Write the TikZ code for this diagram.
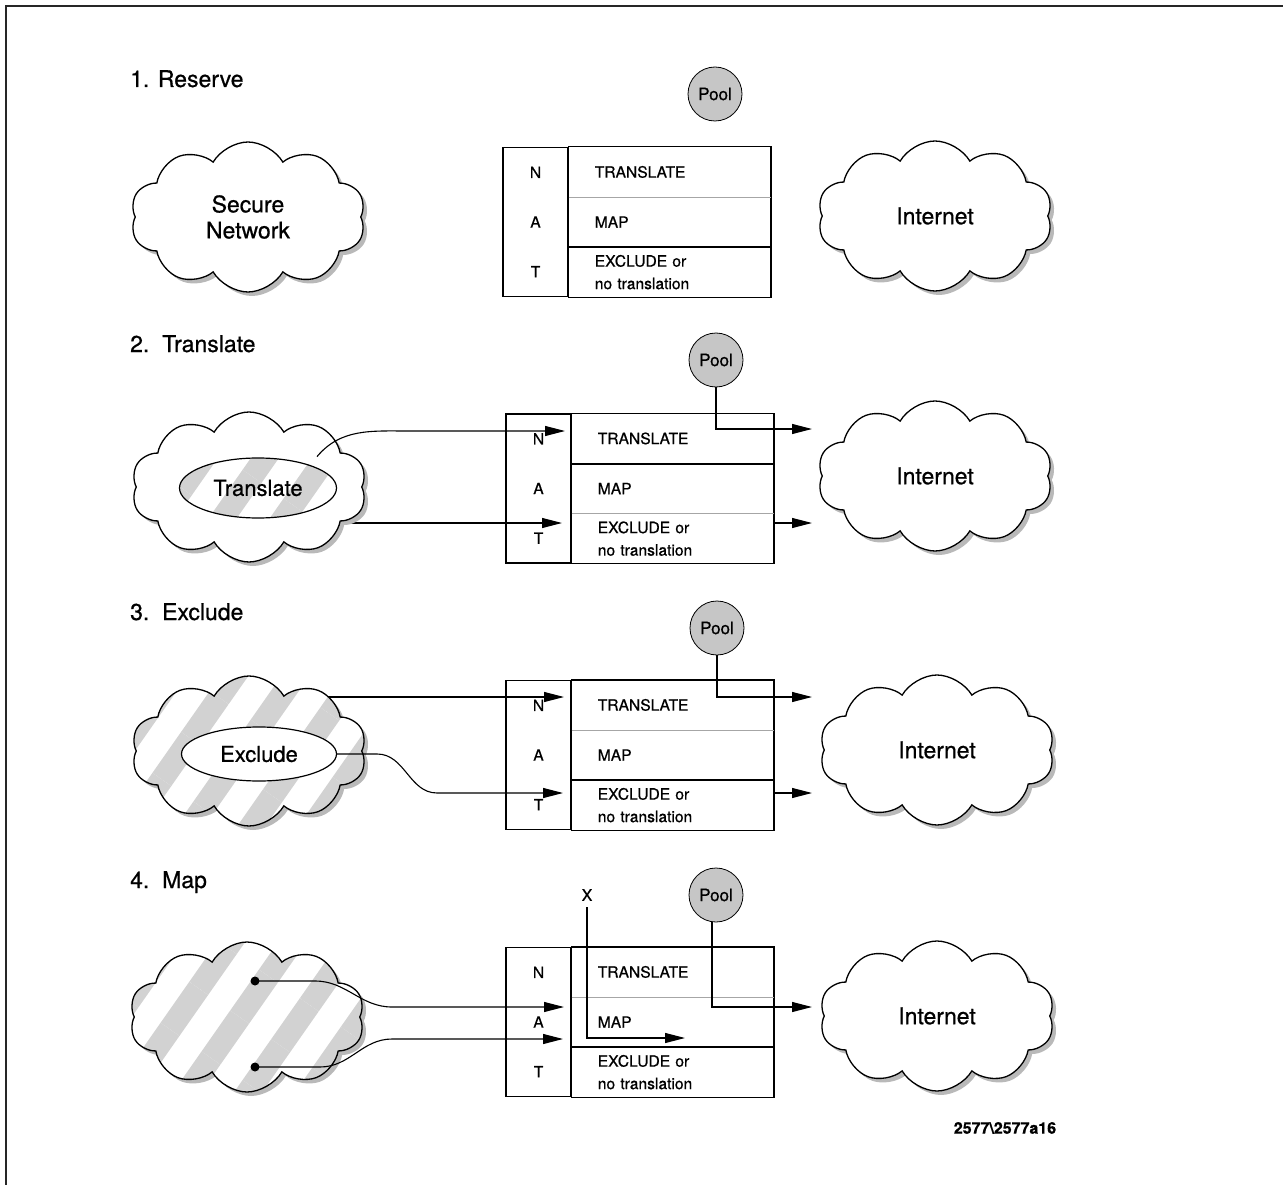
\documentclass[tikz,border=0pt]{standalone}
\usepackage{fontspec}
\setmainfont{TeX Gyre Heros}[FakeBold=0.7]
\usetikzlibrary{positioning,arrows.meta,calc,shapes.geometric,shapes.symbols,shadows,patterns.meta,backgrounds}

\begin{document}
\begin{tikzpicture}[x=1pt, y=-1pt,
    netcloud/.style={cloud, cloud puffs=10, cloud puff arc=120, cloud ignores aspect,
                     draw=black, fill=white, line width=1.3pt,
                     minimum width=235pt, minimum height=150pt, align=center,
                     font=\fontsize{23}{26}\selectfont,
                     drop shadow={shadow xshift=4pt, shadow yshift=-4pt, fill=gray!55, opacity=1}},
    striped/.style={preaction={fill=white},
                    pattern={Lines[angle=55, distance=50pt, line width=23pt]}, pattern color=gray!35},
    inset/.style={ellipse, draw=black, fill=white, line width=1.2pt, inner sep=0pt,
                  font=\fontsize{22}{22}\selectfont},
    pool/.style={circle, draw=black, fill=gray!45, line width=0.8pt, minimum size=54pt,
                 inner sep=0pt, font=\fontsize{17}{17}\selectfont},
    natcol/.style={draw=black, line width=1.2pt, minimum width=65pt, minimum height=149pt,
                   inner sep=0pt, align=center, font=\fontsize{15.6}{49.7}\selectfont},
    natrow/.style={minimum width=202pt, minimum height=49.7pt, text width=150pt,
                   inner xsep=26pt, inner ysep=0pt, align=left,
                   font=\fontsize{15.6}{22.5}\selectfont},
    natframe/.style={draw=black, line width=1.2pt},
    thickdiv/.style={draw=black, line width=2pt},
    thindiv/.style={draw=gray!70, line width=0.9pt},
    flow/.style={-{Triangle[length=20pt, width=10pt]}, line width=1.1pt, draw=black},
    heading/.style={anchor=base west, inner sep=0pt, font=\fontsize{23}{23}\selectfont},
    mapdot/.style={circle, fill=black, inner sep=0pt, minimum size=9pt},
    tag/.style={font=\bfseries\fontsize{16}{16}\selectfont, inner sep=0pt}
]
\useasboundingbox (0,0) rectangle (1283,1185);

% --- page frame ---
\draw[line width=2.5pt, black!85] (6,1190) -- (6,6) -- (1290,6);

% --- 1. Reserve ---
\node[heading] (h1) at (130,87) {1. Reserve};
\node[netcloud] (secure) at (248,217) {Secure\\Network};
\node[netcloud] (inet1) at (935,216) {Internet};
\node[pool] (pool1) at (715,94) {Pool};
\node[natcol] (col1) at (535.5,222) {N\\A\\T};
\node[natrow, anchor=north west] (tr1) at (col1.north east) {TRANSLATE};
\node[natrow, below=0pt of tr1] (map1) {MAP};
\node[natrow, below=0pt of map1] (ex1) {EXCLUDE or\\no translation};
\draw[natframe] (col1.north east) rectangle (ex1.south east);
\draw[thindiv] (tr1.south west) -- (tr1.south east);
\draw[thickdiv] (map1.south west) -- (map1.south east);

% --- 2. Translate ---
\node[heading] (h2) at (130,352) {2.\ \ Translate};
\node[netcloud] (lan2) at (249,487) {};
\node[inset, striped, minimum width=157pt, minimum height=60pt] (trans) at (258,488) {Translate};
\node[netcloud] (inet2) at (935,476) {Internet};
\node[pool] (pool2) at (716,360) {Pool};
\node[natcol] (col2) at (538.5,488.5) {N\\A\\T};
\node[natrow, anchor=north west] (tr2) at (col2.north east) {TRANSLATE};
\node[natrow, below=0pt of tr2] (map2) {MAP};
\node[natrow, below=0pt of map2] (ex2) {EXCLUDE or\\no translation};
\draw[natframe] (col2.north east) rectangle (ex2.south east);
\draw[thickdiv] (tr2.south west) -- (tr2.south east);
\draw[thindiv] (map2.south west) -- (map2.south east);

\coordinate (n2in) at (565,431);
\coordinate (t2in) at (562,523);
\coordinate (n2out) at (812,429);
\coordinate (t2out) at (812,523);
\draw[flow] (trans.28) to[out=50, in=180] ($(trans.east)+(60,-57)$) -- (n2in);
\begin{scope}[on background layer]
  \draw[flow] (lan2.center |- t2in) -- (t2in);
\end{scope}
\draw[flow] (pool2.south) |- (n2out);
\draw[flow] (t2in -| ex2.east) -- (t2out);

% --- 3. Exclude ---
\node[heading] (h3) at (130,620) {3.\ \ Exclude};
\node[netcloud, striped] (lan3) at (249,751) {};
\node[inset, minimum width=155pt, minimum height=54pt] (excl) at (259,754) {Exclude};
\node[netcloud] (inet3) at (937,750) {Internet};
\node[pool] (pool3) at (717,628) {Pool};
\node[natcol] (col3) at (538.5,755) {N\\A\\T};
\node[natrow, anchor=north west] (tr3) at (col3.north east) {TRANSLATE};
\node[natrow, below=0pt of tr3] (map3) {MAP};
\node[natrow, below=0pt of map3] (ex3) {EXCLUDE or\\no translation};
\draw[natframe] (col3.north east) rectangle (ex3.south east);
\draw[thindiv] (tr3.south west) -- (tr3.south east);
\draw[thickdiv] (map3.south west) -- (map3.south east);

\coordinate (n3in) at (564,697);
\coordinate (t3in) at (563,793);
\coordinate (n3out) at (812,697);
\coordinate (t3out) at (812,793);
\begin{scope}[on background layer]
  \draw[flow] (lan3.center |- n3in) -- (n3in);
\end{scope}
\draw[flow] (excl.east) -- ++(40,0) to[out=0, in=180] ++(60,39) -- (t3in);
\draw[flow] (pool3.south) |- (n3out);
\draw[flow] (t3in -| ex3.east) -- (t3out);

% --- 4. Map ---
\node[heading] (h4) at (130,888) {4.\ \ Map};
\node[netcloud, striped] (lan4) at (247,1017) {};
\node[mapdot] (d1) at (255,981) {};
\node[mapdot] (d2) at (255,1067) {};
\node[netcloud] (inet4) at (937,1016) {Internet};
\node[pool] (pool4) at (716,895) {Pool};
\node[inner sep=0pt, font=\fontsize{16}{16}\selectfont] (xmark) at (587,895) {X};
\node[natcol] (col4) at (538.5,1022) {N\\A\\T};
\node[natrow, anchor=north west] (tr4) at (col4.north east) {TRANSLATE};
\node[natrow, below=0pt of tr4] (map4) {MAP};
\node[natrow, below=0pt of map4] (ex4) {EXCLUDE or\\no translation};
\draw[natframe] (col4.north east) rectangle (ex4.south east);
\draw[thindiv] (tr4.south west) -- (tr4.south east);
\draw[thickdiv] (map4.south west) -- (map4.south east);

\coordinate (a4top) at (564,1007);
\coordinate (a4bot) at (563,1039);
\coordinate (xend) at (685,1038);
\coordinate (a4out) at (812,1007);
\draw[flow] (d1.center) -- ++(60,0) to[out=0, in=180] ++(77,26) -- (a4top);
\draw[flow] (d2.center) -- ++(65,0) to[out=0, in=180] ++(72,-28) -- (a4bot);
\draw[flow] ([yshift=-6pt]xmark.south) |- (xend);
\draw[flow] ([xshift=-4pt]pool4.south) |- (a4out);

% --- figure id ---
\node[tag] (figid) at (1005,1128) {2577\textbackslash 2577a16};

\end{tikzpicture}
\end{document}
